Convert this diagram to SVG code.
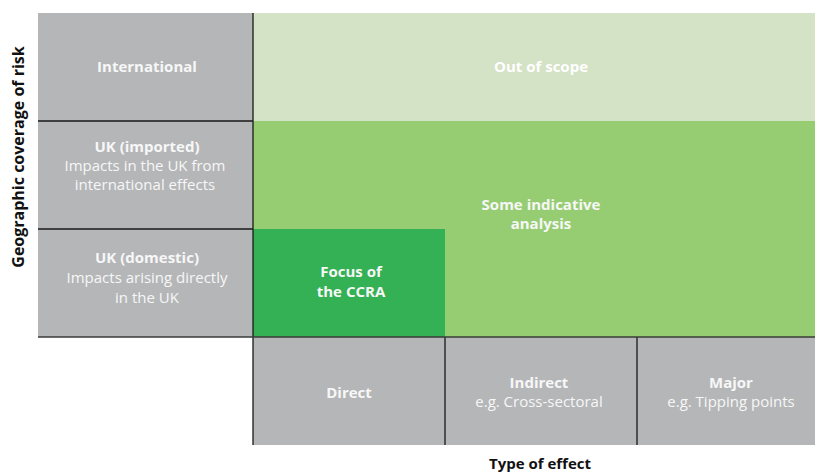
<svg xmlns="http://www.w3.org/2000/svg" width="815" height="472" viewBox="0 0 815 472">
<style>
.g{fill:#b5b6b8}
.t{font-family:"Open Sans","Noto Sans",sans-serif;font-size:15px;fill:#f7f7f7;text-anchor:middle}
.b{font-weight:bold}
.ax{font-family:"Open Sans","Noto Sans",sans-serif;font-size:15px;font-weight:bold;fill:#111;text-anchor:middle}
.ln{stroke:#1a1a1a;stroke-width:1.3;fill:none}
</style>
<rect width="815" height="472" fill="#fff"/>
<g id="out-of-scope"><rect x="253" y="13" width="562" height="108" fill="#d4e2c5"/><text class="t b" x="541" y="72" style="fill:#fff">Out of scope</text></g>
<g id="indicative"><rect x="253" y="121" width="562" height="216" fill="#96cd72"/><text class="t b" x="541" y="210">Some indicative</text><text class="t b" x="541" y="229">analysis</text></g>
<g id="focus"><rect x="253" y="229" width="192" height="108" fill="#34b055"/><text class="t b" x="351" y="277">Focus of</text><text class="t b" x="351" y="297">the CCRA</text></g>
<g id="international"><rect class="g" x="38" y="13" width="215" height="108"/><text class="t b" x="147" y="72">International</text></g>
<g id="uk-imported"><rect class="g" x="38" y="121" width="215" height="108"/><text class="t b" x="147" y="152">UK (imported)</text><text class="t" x="145" y="171">Impacts in the UK from</text><text class="t" x="145" y="190">international effects</text></g>
<g id="uk-domestic"><rect class="g" x="38" y="229" width="215" height="108"/><text class="t b" x="147" y="263">UK (domestic)</text><text class="t" x="147" y="283">Impacts arising directly</text><text class="t" x="147" y="303">in the UK</text></g>
<g id="direct"><rect class="g" x="253" y="337" width="192" height="108"/><text class="t b" x="349" y="398">Direct</text></g>
<g id="indirect"><rect class="g" x="445" y="337" width="192" height="108"/><text class="t b" x="539" y="388">Indirect</text><text class="t" x="539" y="407">e.g. Cross-sectoral</text></g>
<g id="major"><rect class="g" x="637" y="337" width="178" height="108"/><text class="t b" x="731" y="388">Major</text><text class="t" x="731" y="407">e.g. Tipping points</text></g>
<g id="connectors">
<path class="ln" d="M253 13V445M38 121H253M38 229H253M445 337V445M637 337V445"/>
<path d="M38 337H815" stroke="#3a3a3a" stroke-width="1.6"/>
</g>
<text class="ax" x="540" y="469">Type of effect</text>
<text class="ax" style="font-size:16px" transform="translate(24 157) rotate(-90)">Geographic coverage of risk</text>
</svg>
